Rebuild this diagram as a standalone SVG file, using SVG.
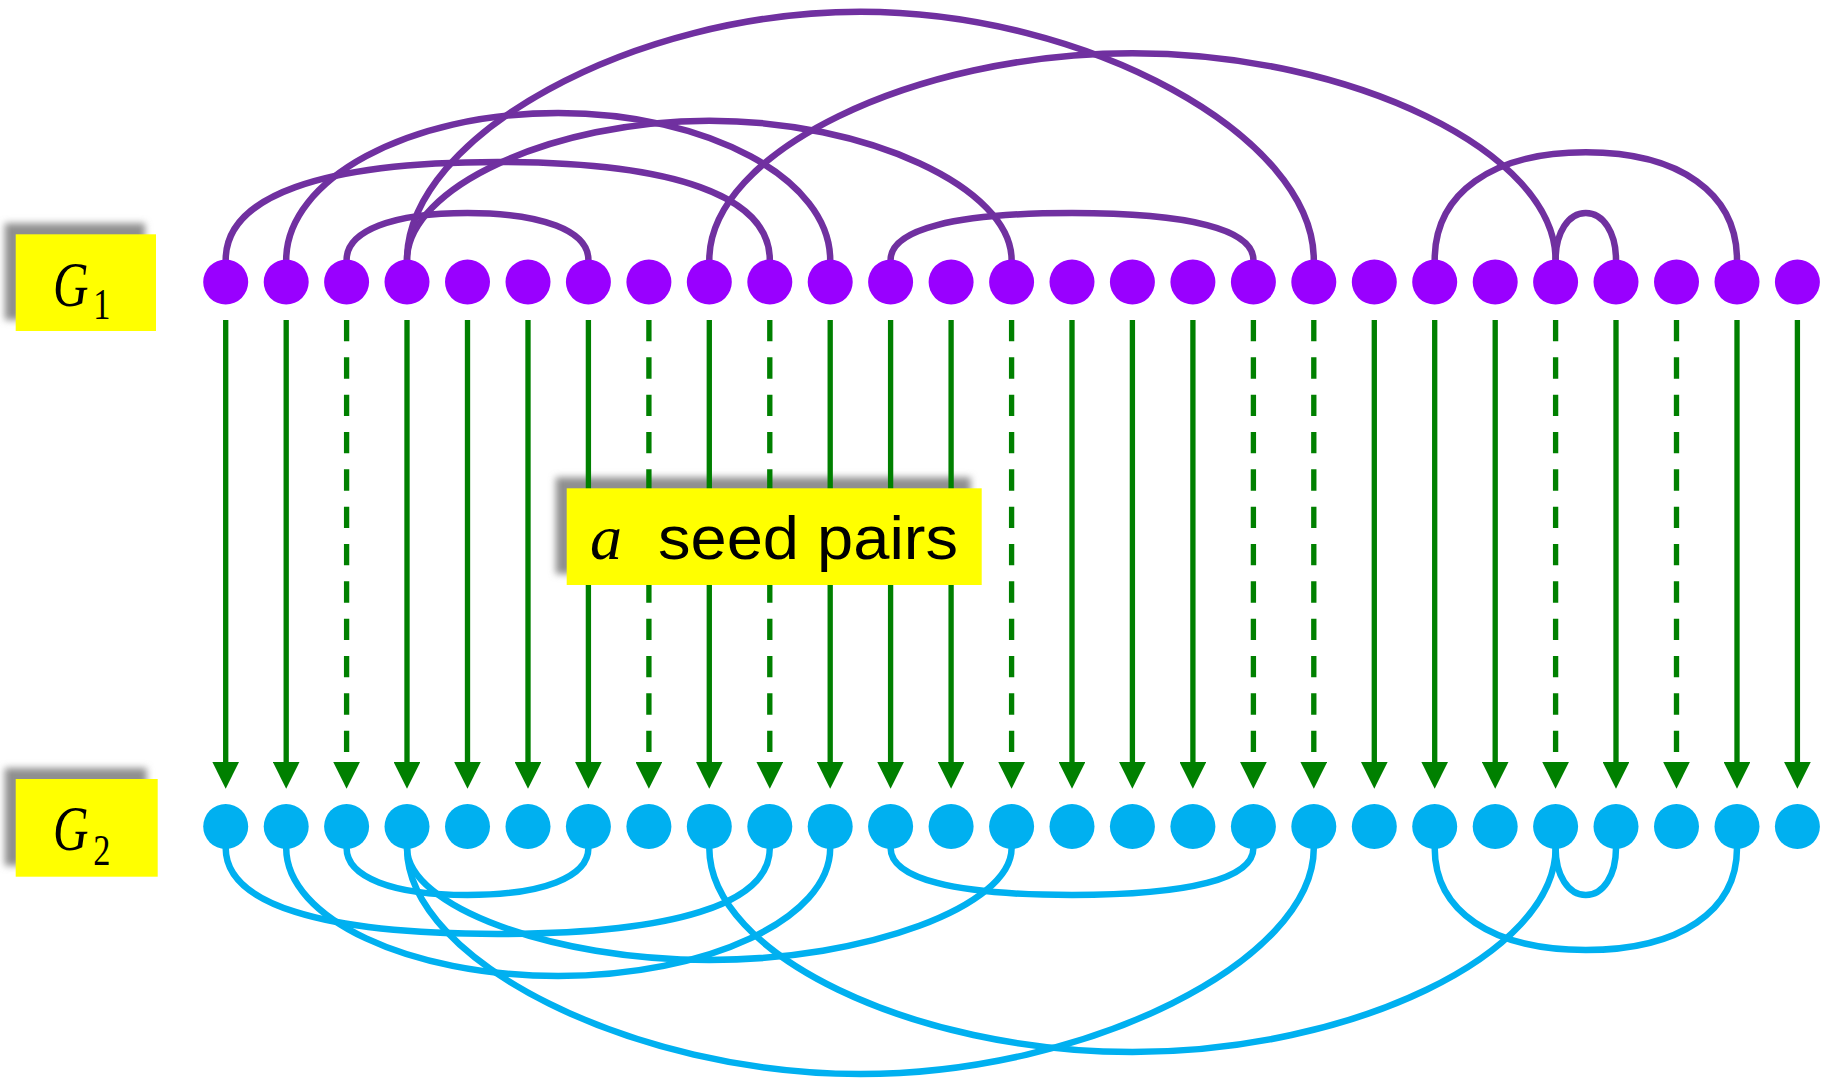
<svg xmlns="http://www.w3.org/2000/svg" width="1833" height="1083" viewBox="0 0 1833 1083">
  <defs>
    <filter id="soft" x="-20%" y="-30%" width="140%" height="160%">
      <feGaussianBlur stdDeviation="3.5"/>
    </filter>
    <marker id="head" markerUnits="userSpaceOnUse" markerWidth="26.67" markerHeight="26.67" viewBox="0 0 26.67 26.67" refX="3" refY="13.33" orient="auto">
      <path d="M0,0 L26.67,13.33 L0,26.67 Z" fill="#008000"/>
    </marker>
    <style>
      .v1 { fill: #9900FF; }
      .v2 { fill: #00B0F0; }
      .e1 { fill: none; stroke: #7030A0; stroke-width: 6.5; }
      .e2 { fill: none; stroke: #00B0F0; stroke-width: 6.5; }
      .map { stroke: #008000; stroke-width: 5.33; fill: none; marker-end: url(#head); }
      .cand { stroke-dasharray: 21.33 16; }
      .tag { fill: #FFFF00; }
      .shade { fill: #8f8f8f; filter: url(#soft); }
      .math { font-family: "Liberation Serif", serif; font-style: italic; fill: #000; }
      .sub { font-family: "Liberation Serif", serif; font-style: normal; }
      .lbl { font-family: "Liberation Sans", sans-serif; fill: #000; }
    </style>
  </defs>

  <!-- soft drop shadows behind the three yellow tags -->
  <g id="tag-shadows">
    <rect class="shade" x="4.7" y="223.3" width="140.3" height="96.7"/>
    <rect class="shade" x="4.7" y="768" width="142" height="97.7"/>
    <rect class="shade" x="555.7" y="477.3" width="415" height="96.7"/>
  </g>

  <!-- edges of G1 (above) and G2 (below) -->
  <g id="edges">
    <g id="edges-g1">
      <path class="e1" d="M225.7,260 C225.7,196.3 320.9,162 497.7,162 C674.6,162 769.8,196.3 769.8,260"/>
      <path class="e1" d="M286.2,260 C286.2,179.2 408.6,113 558.2,113 C707.8,113 830.2,179.2 830.2,260"/>
      <path class="e1" d="M346.6,260 C346.6,230.9 392.5,213 467.5,213 C542.5,213 588.4,230.9 588.4,260"/>
      <path class="e1" d="M407,260 C407,187.6 552.1,120.7 709.3,120.7 C866.5,120.7 1011.6,187.6 1011.6,260"/>
      <path class="e1" d="M407,260 C407,135.9 633.7,11.7 860.4,11.7 C1087.1,11.7 1313.8,135.9 1313.8,260"/>
      <path class="e1" d="M709.3,260 C709.3,152.5 912.4,53.3 1132.4,53.3 C1352.5,53.3 1555.6,152.5 1555.6,260"/>
      <path class="e1" d="M890.6,260 C890.6,229.4 954.1,213 1072,213 C1189.9,213 1253.4,229.4 1253.4,260"/>
      <path class="e1" d="M1434.7,260 C1434.7,193.2 1492.1,152.3 1585.8,152.3 C1679.5,152.3 1737,193.2 1737,260"/>
      <path class="e1" d="M1555.6,260 C1555.6,232.7 1568.3,213 1585.8,213 C1603.3,213 1616,232.7 1616,260"/>
    </g>
    <g id="edges-g2">
      <path class="e2" d="M225.7,848 C225.7,903.9 320.9,934 497.7,934 C674.6,934 769.8,903.9 769.8,848"/>
      <path class="e2" d="M286.2,848 C286.2,918.4 408.6,976 558.2,976 C707.8,976 830.2,918.4 830.2,848"/>
      <path class="e2" d="M346.6,848 C346.6,877.1 392.5,895 467.5,895 C542.5,895 588.4,877.1 588.4,848"/>
      <path class="e2" d="M407,848 C407,906.2 552.1,960 709.3,960 C866.5,960 1011.6,906.2 1011.6,848"/>
      <path class="e2" d="M407,848 C407,961 633.7,1074 860.4,1074 C1087.1,1074 1313.8,961 1313.8,848"/>
      <path class="e2" d="M709.3,848 C709.3,954.1 912.4,1052 1132.4,1052 C1352.5,1052 1555.6,954.1 1555.6,848"/>
      <path class="e2" d="M890.6,848 C890.6,878.6 954.1,895 1072,895 C1189.9,895 1253.4,878.6 1253.4,848"/>
      <path class="e2" d="M1434.7,848 C1434.7,911.2 1492.1,950 1585.8,950 C1679.5,950 1737,911.2 1737,848"/>
      <path class="e2" d="M1555.6,848 C1555.6,875.3 1568.3,895 1585.8,895 C1603.3,895 1616,875.3 1616,848"/>
    </g>
  </g>

  <!-- vertex correspondence G1 -> G2 (dashed = non-seed) -->
  <g id="mapping">
    <line class="map" x1="225.7" y1="320" x2="225.7" y2="765"/>
    <line class="map" x1="286.2" y1="320" x2="286.2" y2="765"/>
    <line class="map cand" x1="346.6" y1="320" x2="346.6" y2="765"/>
    <line class="map" x1="407" y1="320" x2="407" y2="765"/>
    <line class="map" x1="467.5" y1="320" x2="467.5" y2="765"/>
    <line class="map" x1="528" y1="320" x2="528" y2="765"/>
    <line class="map" x1="588.4" y1="320" x2="588.4" y2="765"/>
    <line class="map cand" x1="648.9" y1="320" x2="648.9" y2="765"/>
    <line class="map" x1="709.3" y1="320" x2="709.3" y2="765"/>
    <line class="map cand" x1="769.8" y1="320" x2="769.8" y2="765"/>
    <line class="map" x1="830.2" y1="320" x2="830.2" y2="765"/>
    <line class="map" x1="890.6" y1="320" x2="890.6" y2="765"/>
    <line class="map" x1="951.1" y1="320" x2="951.1" y2="765"/>
    <line class="map cand" x1="1011.6" y1="320" x2="1011.6" y2="765"/>
    <line class="map" x1="1072" y1="320" x2="1072" y2="765"/>
    <line class="map" x1="1132.4" y1="320" x2="1132.4" y2="765"/>
    <line class="map" x1="1192.9" y1="320" x2="1192.9" y2="765"/>
    <line class="map cand" x1="1253.4" y1="320" x2="1253.4" y2="765"/>
    <line class="map cand" x1="1313.8" y1="320" x2="1313.8" y2="765"/>
    <line class="map" x1="1374.3" y1="320" x2="1374.3" y2="765"/>
    <line class="map" x1="1434.7" y1="320" x2="1434.7" y2="765"/>
    <line class="map" x1="1495.2" y1="320" x2="1495.2" y2="765"/>
    <line class="map cand" x1="1555.6" y1="320" x2="1555.6" y2="765"/>
    <line class="map" x1="1616" y1="320" x2="1616" y2="765"/>
    <line class="map cand" x1="1676.5" y1="320" x2="1676.5" y2="765"/>
    <line class="map" x1="1737" y1="320" x2="1737" y2="765"/>
    <line class="map" x1="1797.4" y1="320" x2="1797.4" y2="765"/>
  </g>

  <!-- vertices of G1 -->
  <g id="g1-vertices">
    <circle id="u0" class="v1" cx="225.7" cy="282" r="22.5"/>
    <circle id="u1" class="v1" cx="286.2" cy="282" r="22.5"/>
    <circle id="u2" class="v1" cx="346.6" cy="282" r="22.5"/>
    <circle id="u3" class="v1" cx="407" cy="282" r="22.5"/>
    <circle id="u4" class="v1" cx="467.5" cy="282" r="22.5"/>
    <circle id="u5" class="v1" cx="528" cy="282" r="22.5"/>
    <circle id="u6" class="v1" cx="588.4" cy="282" r="22.5"/>
    <circle id="u7" class="v1" cx="648.9" cy="282" r="22.5"/>
    <circle id="u8" class="v1" cx="709.3" cy="282" r="22.5"/>
    <circle id="u9" class="v1" cx="769.8" cy="282" r="22.5"/>
    <circle id="u10" class="v1" cx="830.2" cy="282" r="22.5"/>
    <circle id="u11" class="v1" cx="890.6" cy="282" r="22.5"/>
    <circle id="u12" class="v1" cx="951.1" cy="282" r="22.5"/>
    <circle id="u13" class="v1" cx="1011.6" cy="282" r="22.5"/>
    <circle id="u14" class="v1" cx="1072" cy="282" r="22.5"/>
    <circle id="u15" class="v1" cx="1132.4" cy="282" r="22.5"/>
    <circle id="u16" class="v1" cx="1192.9" cy="282" r="22.5"/>
    <circle id="u17" class="v1" cx="1253.4" cy="282" r="22.5"/>
    <circle id="u18" class="v1" cx="1313.8" cy="282" r="22.5"/>
    <circle id="u19" class="v1" cx="1374.3" cy="282" r="22.5"/>
    <circle id="u20" class="v1" cx="1434.7" cy="282" r="22.5"/>
    <circle id="u21" class="v1" cx="1495.2" cy="282" r="22.5"/>
    <circle id="u22" class="v1" cx="1555.6" cy="282" r="22.5"/>
    <circle id="u23" class="v1" cx="1616" cy="282" r="22.5"/>
    <circle id="u24" class="v1" cx="1676.5" cy="282" r="22.5"/>
    <circle id="u25" class="v1" cx="1737" cy="282" r="22.5"/>
    <circle id="u26" class="v1" cx="1797.4" cy="282" r="22.5"/>
  </g>

  <!-- vertices of G2 -->
  <g id="g2-vertices">
    <circle id="w0" class="v2" cx="225.7" cy="826.5" r="22.5"/>
    <circle id="w1" class="v2" cx="286.2" cy="826.5" r="22.5"/>
    <circle id="w2" class="v2" cx="346.6" cy="826.5" r="22.5"/>
    <circle id="w3" class="v2" cx="407" cy="826.5" r="22.5"/>
    <circle id="w4" class="v2" cx="467.5" cy="826.5" r="22.5"/>
    <circle id="w5" class="v2" cx="528" cy="826.5" r="22.5"/>
    <circle id="w6" class="v2" cx="588.4" cy="826.5" r="22.5"/>
    <circle id="w7" class="v2" cx="648.9" cy="826.5" r="22.5"/>
    <circle id="w8" class="v2" cx="709.3" cy="826.5" r="22.5"/>
    <circle id="w9" class="v2" cx="769.8" cy="826.5" r="22.5"/>
    <circle id="w10" class="v2" cx="830.2" cy="826.5" r="22.5"/>
    <circle id="w11" class="v2" cx="890.6" cy="826.5" r="22.5"/>
    <circle id="w12" class="v2" cx="951.1" cy="826.5" r="22.5"/>
    <circle id="w13" class="v2" cx="1011.6" cy="826.5" r="22.5"/>
    <circle id="w14" class="v2" cx="1072" cy="826.5" r="22.5"/>
    <circle id="w15" class="v2" cx="1132.4" cy="826.5" r="22.5"/>
    <circle id="w16" class="v2" cx="1192.9" cy="826.5" r="22.5"/>
    <circle id="w17" class="v2" cx="1253.4" cy="826.5" r="22.5"/>
    <circle id="w18" class="v2" cx="1313.8" cy="826.5" r="22.5"/>
    <circle id="w19" class="v2" cx="1374.3" cy="826.5" r="22.5"/>
    <circle id="w20" class="v2" cx="1434.7" cy="826.5" r="22.5"/>
    <circle id="w21" class="v2" cx="1495.2" cy="826.5" r="22.5"/>
    <circle id="w22" class="v2" cx="1555.6" cy="826.5" r="22.5"/>
    <circle id="w23" class="v2" cx="1616" cy="826.5" r="22.5"/>
    <circle id="w24" class="v2" cx="1676.5" cy="826.5" r="22.5"/>
    <circle id="w25" class="v2" cx="1737" cy="826.5" r="22.5"/>
    <circle id="w26" class="v2" cx="1797.4" cy="826.5" r="22.5"/>
  </g>

  <!-- tags -->
  <g id="tag-g1">
    <rect class="tag" x="15.7" y="234.3" width="140.3" height="96.7"/>
    <text class="math" transform="translate(53,306) scale(0.78,1)" font-size="63">G<tspan class="sub" font-size="44" dx="6" dy="13">1</tspan></text>
  </g>
  <g id="tag-g2">
    <rect class="tag" x="15.7" y="779" width="142" height="97.7"/>
    <text class="math" transform="translate(53,850) scale(0.78,1)" font-size="63">G<tspan class="sub" font-size="44" dx="6" dy="15">2</tspan></text>
  </g>
  <g id="tag-seeds">
    <rect class="tag" x="566.7" y="488.3" width="415" height="96.7"/>
    <text class="math" x="590" y="559" font-size="64">a</text>
    <text class="lbl" x="658" y="559" font-size="62" textLength="300" lengthAdjust="spacingAndGlyphs">seed pairs</text>
  </g>
</svg>
